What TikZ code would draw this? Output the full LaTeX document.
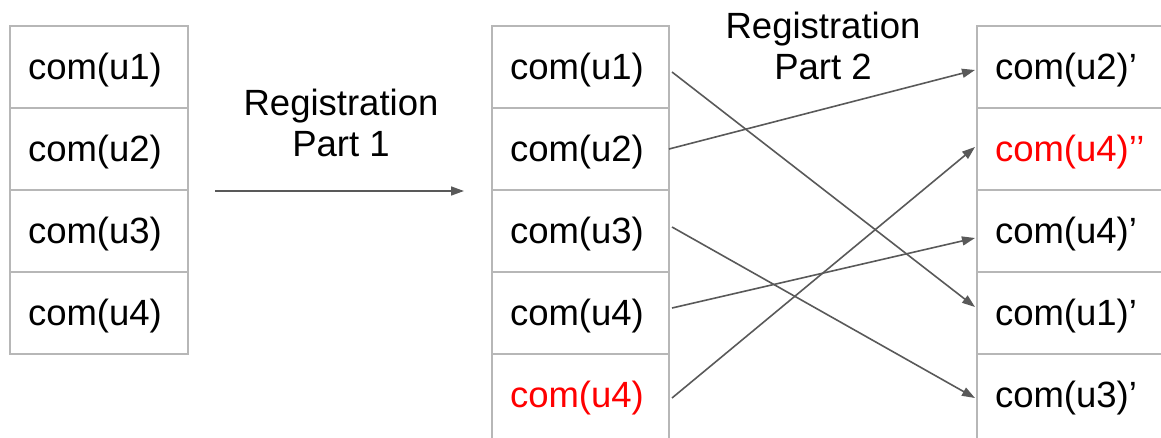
\documentclass[tikz,border=0pt]{standalone}
\usepackage{fontspec}
\setmainfont{Liberation Sans}
\usetikzlibrary{arrows.meta}
\definecolor{cellgray}{HTML}{B7B7B7}
\definecolor{arrgray}{HTML}{595959}
\begin{document}
\begin{tikzpicture}[x=1pt,y=-1pt,
  cell/.style={draw=cellgray, line width=1.5pt, anchor=north west, outer sep=0pt,
    minimum height=82pt, inner xsep=18pt, inner ysep=0pt, align=left,
    text height=29pt, text depth=5pt,
    font=\fontsize{36.5}{42}\selectfont},
  lcell/.style={cell, text width=142pt, minimum width=178pt},
  mcell/.style={cell, text width=141pt, minimum width=177pt},
  rcell/.style={cell, text width=170pt, minimum width=206pt},
  open/.style={draw=none},
  side/.style={draw=cellgray, line width=1.5pt},
  title/.style={align=center, font=\fontsize{36.5}{41}\selectfont},
  conn/.style={draw=arrgray, line width=1.6pt, -{Triangle[length=13pt,width=9pt]}}]
\useasboundingbox (0,0) rectangle (1161,437);
\begin{scope}
\clip (0,0) rectangle (1161,437);
% left column
\node[lcell] (L1) at (10,26) {com(u1)};
\node[lcell] (L2) at (10,108) {com(u2)};
\node[lcell] (L3) at (10,190) {com(u3)};
\node[lcell] (L4) at (10,272) {com(u4)};
% middle column
\node[mcell] (M1) at (492,26) {com(u1)};
\node[mcell] (M2) at (492,108) {com(u2)};
\node[mcell] (M3) at (492,190) {com(u3)};
\node[mcell] (M4) at (492,272) {com(u4)};
\node[mcell, open, text=red] (M5) at (492,354) {com(u4)};
\draw[side] (M5.north west) -- ([yshift=-20pt]M5.south west)
            (M5.north east) -- ([yshift=-20pt]M5.south east);
% right column
\node[rcell] (R1) at (977,26) {com(u2)’};
\node[rcell, text=red] (R2) at (977,108) {com(u4)’’};
\node[rcell] (R3) at (977,190) {com(u4)’};
\node[rcell] (R4) at (977,272) {com(u1)’};
\node[rcell, open] (R5) at (977,354) {com(u3)’};
\draw[side] (R5.north west) -- ([yshift=-20pt]R5.south west);
\end{scope}
% titles
\node[title] (T1) at (341,123) {Registration\\Part 1};
\node[title] (T2) at (823,46) {Registration\\Part 2};
% arrow part 1
\coordinate (A1) at (215,191);
\coordinate (A2) at (464,191);
\draw[conn] (A1) -- (A2);
% connectors
\draw[conn] ([xshift=3pt,yshift=-5pt]M1.east) -- ([xshift=-2pt,yshift=6pt]R4.west);
\draw[conn] (M2.east) -- ([xshift=-2pt,yshift=-3pt]R1.west);
\draw[conn] ([xshift=3pt,yshift=4pt]M3.east) -- ([xshift=-2pt,yshift=-3pt]R5.west);
\draw[conn] ([xshift=3pt,yshift=5pt]M4.east) -- ([xshift=-2pt,yshift=-7pt]R3.west);
\draw[conn] ([xshift=3pt,yshift=-3pt]M5.east) -- ([xshift=-2pt,yshift=2pt]R2.west);
\end{tikzpicture}
\end{document}
